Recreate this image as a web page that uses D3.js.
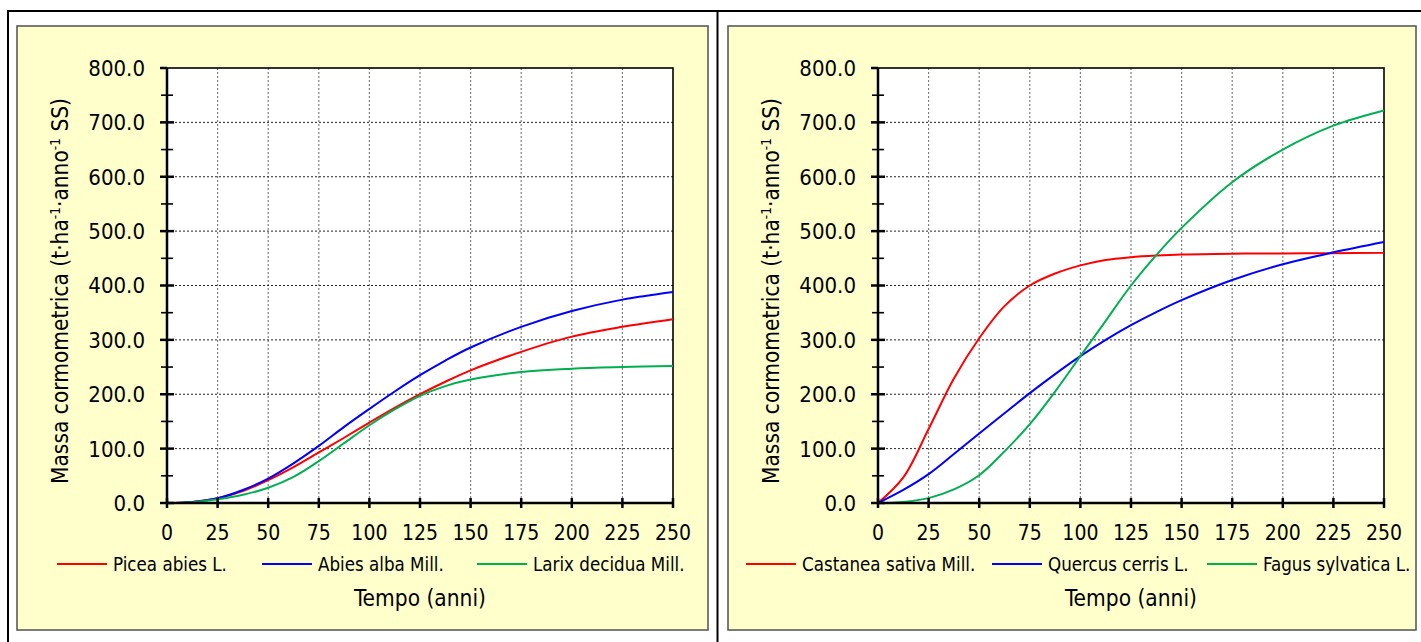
<!DOCTYPE html>
<html><head><meta charset="utf-8">
<script src="https://cdn.jsdelivr.net/npm/d3@7"></script>
<style>
body{margin:0;background:#fff}
svg{display:block}
text{font-family:"DejaVu Sans Condensed","DejaVu Sans",sans-serif;fill:#000}
</style>
</head><body>
<svg id="c" width="1421" height="642"></svg>
<script>
// ---------------- data ----------------
const years = [0, 12.5, 25, 37.5, 50, 62.5, 75, 87.5, 100, 112.5, 125, 137.5, 150, 175, 200, 225, 250];

const piceaAbies     = [0, 2, 8.6, 22, 42, 66, 93, 120, 148, 175, 200, 223, 244, 278, 306, 324, 338];
const abiesAlba      = [0, 2, 9, 24, 45, 73, 105, 140, 173, 205, 235, 262, 286, 324, 353, 374, 388];
const larixDecidua   = [0, 1.5, 6.7, 15, 28, 48, 77, 110, 143, 172, 197, 215, 227, 241, 247, 250, 252];

const castaneaSativa = [0, 47, 136, 229, 303, 362, 400, 422, 437, 447, 452, 455, 457, 458.5, 459, 459.5, 460];
const quercusCerris  = [0, 24, 53, 90, 128, 165, 202, 237, 270, 300, 327, 351, 373, 410, 439, 461, 480];
const fagusSylvatica = [0, 2, 9, 25, 51, 95, 145, 205, 270, 335, 400, 456, 506, 590, 650, 694, 722];

const leftNames  = ["Picea abies L.", "Abies alba Mill.", "Larix decidua Mill."];
const rightNames = ["Castanea sativa Mill.", "Quercus cerris L.", "Fagus sylvatica L."];

const xTicks = [0, 25, 50, 75, 100, 125, 150, 175, 200, 225, 250];
const yTicks = [0, 100, 200, 300, 400, 500, 600, 700, 800];
const yMinorTicks = [50, 150, 250, 350, 450, 550, 650, 750];

const xTitle = "Tempo (anni)";

// ---------------- styles / layout ----------------
const colors = ["#FF0000", "#0000FF", "#00B050"];
const svg = d3.select("#c");

// outer frame
svg.append("line").attr("x1", 8).attr("x2", 1421).attr("y1", 11).attr("y2", 11).attr("stroke", "#000").attr("stroke-width", 2);
svg.append("line").attr("x1", 8).attr("x2", 8).attr("y1", 10).attr("y2", 642).attr("stroke", "#000").attr("stroke-width", 2);
svg.append("line").attr("x1", 717.5).attr("x2", 717.5).attr("y1", 10).attr("y2", 642).attr("stroke", "#000").attr("stroke-width", 2);

const panels = [
  {box: [17, 26, 691, 604], plotX: 167, names: leftNames, series: [piceaAbies, abiesAlba, larixDecidua],
   legendX: [57, 262, 477], yTitleX: 60},
  {box: [728, 26, 688, 604], plotX: 878, names: rightNames, series: [castaneaSativa, quercusCerris, fagusSylvatica],
   legendX: [746, 992, 1207], yTitleX: 771}
];

panels.forEach(p => {
  const g = svg.append("g");
  g.append("rect").attr("x", p.box[0]).attr("y", p.box[1]).attr("width", p.box[2]).attr("height", p.box[3])
    .attr("fill", "#FFFFCC").attr("stroke", "#505050").attr("stroke-width", 1.5);

  const x = d3.scaleLinear().domain([0, 250]).range([p.plotX, p.plotX + 506]);
  const y = d3.scaleLinear().domain([0, 800]).range([503, 68]);

  g.append("rect").attr("x", x(0)).attr("y", y(800)).attr("width", x(250) - x(0)).attr("height", y(0) - y(800))
    .attr("fill", "#fff");

  // grid
  g.selectAll(".vg").data(xTicks.slice(1, -1)).join("line")
    .attr("x1", d => x(d)).attr("x2", d => x(d)).attr("y1", y(800)).attr("y2", y(0))
    .attr("stroke", "#808080").attr("stroke-width", 1.2).attr("stroke-dasharray", "2,2");
  g.selectAll(".hg").data(yTicks.slice(1, -1)).join("line")
    .attr("x1", x(0)).attr("x2", x(250)).attr("y1", d => y(d)).attr("y2", d => y(d))
    .attr("stroke", "#222").attr("stroke-width", 1).attr("stroke-dasharray", "2,2");

  // border
  g.append("rect").attr("x", x(0)).attr("y", y(800)).attr("width", x(250) - x(0)).attr("height", y(0) - y(800))
    .attr("fill", "none").attr("stroke", "#000").attr("stroke-width", 1.6);

  // series
  const line = d3.line().x((d, i) => x(years[i])).y(d => y(d)).curve(d3.curveCatmullRom.alpha(0.5));
  p.series.forEach((s, i) => {
    g.append("path").attr("d", line(s)).attr("fill", "none").attr("stroke", colors[i]).attr("stroke-width", 2);
  });

  // axes lines
  g.append("line").attr("x1", x(0)).attr("x2", x(0)).attr("y1", y(800)).attr("y2", y(0)).attr("stroke", "#000").attr("stroke-width", 2.5);
  g.append("line").attr("x1", x(0)).attr("x2", x(250)).attr("y1", y(0)).attr("y2", y(0)).attr("stroke", "#000").attr("stroke-width", 2.5);

  // ticks
  g.selectAll(".yt").data(yTicks).join("line")
    .attr("x1", x(0) - 7).attr("x2", d => d === 800 ? x(0) : x(0) + 7).attr("y1", d => y(d)).attr("y2", d => y(d))
    .attr("stroke", "#000").attr("stroke-width", 2.5);
  g.selectAll(".ymt").data(yMinorTicks).join("line")
    .attr("x1", x(0) - 6).attr("x2", x(0) + 6).attr("y1", d => y(d)).attr("y2", d => y(d))
    .attr("stroke", "#000").attr("stroke-width", 1.6);
  g.selectAll(".xt").data(xTicks).join("line")
    .attr("x1", d => x(d)).attr("x2", d => x(d)).attr("y1", y(0) - 5).attr("y2", y(0) + 5)
    .attr("stroke", "#000").attr("stroke-width", 2.5);

  // tick labels
  g.selectAll(".yl").data(yTicks).join("text")
    .attr("x", x(0) - 22).attr("y", d => y(d)).attr("dy", "0.36em").attr("text-anchor", "end")
    .attr("font-size", 22).text(d => d3.format(".1f")(d));
  g.selectAll(".xl").data(xTicks).join("text")
    .attr("x", d => x(d)).attr("y", 540).attr("text-anchor", "middle")
    .attr("font-size", 21).text(d => d);

  // y title
  const yt = g.append("text").attr("transform", `translate(${p.yTitleX},${291}) rotate(-90)`)
    .attr("text-anchor", "middle").attr("dy", "0.36em").attr("font-size", 22.5);
  yt.append("tspan").text("Massa cormometrica (t·ha");
  yt.append("tspan").attr("font-size", 13.5).attr("baseline-shift", "super").text("-1");
  yt.append("tspan").text("·anno");
  yt.append("tspan").attr("font-size", 13.5).attr("baseline-shift", "super").text("-1");
  yt.append("tspan").text(" SS)");

  // x title
  g.append("text").attr("x", x(125)).attr("y", 606).attr("text-anchor", "middle").attr("font-size", 22.5).text(xTitle);

  // legend
  p.names.forEach((n, i) => {
    const lx = p.legendX[i];
    g.append("line").attr("x1", lx).attr("x2", lx + 50).attr("y1", 564).attr("y2", 564)
      .attr("stroke", colors[i]).attr("stroke-width", 2);
    g.append("text").attr("x", lx + 56).attr("y", 564).attr("dy", "0.36em").attr("font-size", 18.6).text(n);
  });
});
</script>
</body></html>
